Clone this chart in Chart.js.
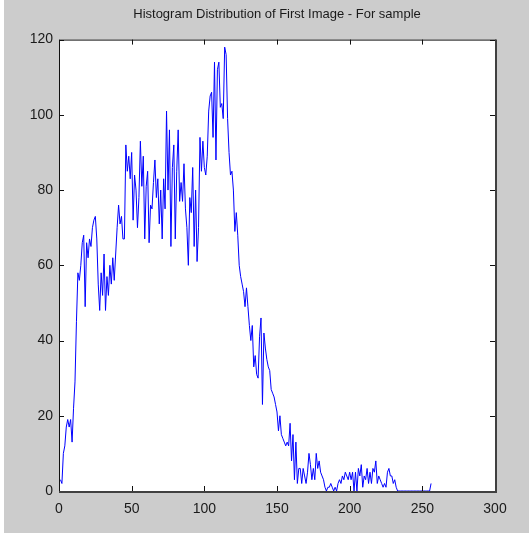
<!DOCTYPE html>
<html>
<head>
<meta charset="utf-8">
<script src="https://cdn.jsdelivr.net/npm/chart.js@4"></script>
<style>
  html, body { margin: 0; padding: 0; background: #cccccc; }
  #wrap { width: 529px; height: 533px; position: relative; }
</style>
</head>
<body>
<div id="wrap"><canvas id="myChart" width="529" height="533"></canvas></div>
<script>
// histogram counts for bins 1..256
const binCounts = [
    3, 2, 10, 12, 17, 19, 17, 19, 13, 22,
    29, 45, 58, 56, 60, 66, 68, 49, 66, 62,
    67, 65, 70, 72, 73, 67, 55, 48, 58, 52,
    63, 48, 57, 52, 60, 55, 62, 56, 63, 70,
    76, 71, 73, 67, 67, 92, 85, 89, 83, 90,
    72, 84, 80, 70, 78, 93, 81, 89, 67, 81,
    85, 66, 76, 75, 82, 88, 78, 83, 71, 80,
    67, 83, 75, 101, 80, 96, 65, 86, 92, 67,
    85, 96, 77, 82, 77, 87, 75, 70, 60, 78,
    74, 86, 65, 80, 61, 70, 94, 85, 93, 86,
    84, 89, 101, 105, 106, 94, 114, 88, 112, 114,
    102, 103, 99, 118, 116, 99, 90, 84, 85, 80,
    69, 74, 68, 60, 57, 55, 53, 49, 54, 49,
    44, 40, 44, 33, 36, 31, 30, 41, 46, 23,
    42, 38, 35, 33, 32, 27, 26, 25, 23, 21,
    16, 20, 15, 14, 13, 12, 13, 12, 18, 8,
    15, 3, 13, 2, 6, 6, 2, 6, 4, 2,
    5, 10, 7, 3, 6, 3, 10, 6, 8, 5,
    4, 3, 1, 0, 1, 1, 2, 1, 0, 1,
    0, 2, 3, 2, 4, 3, 5, 4, 3, 5,
    3, 5, 0, 5, 0, 6, 4, 7, 1, 4,
    3, 6, 2, 5, 2, 6, 5, 8, 2, 4,
    3, 2, 1, 2, 1, 5, 6, 4, 4, 2,
    3, 1, 0, 0, 0, 0, 0, 0, 0, 0,
    0, 0, 0, 0, 0, 0, 0, 0, 0, 0,
    0, 0, 0, 0, 0, 2
];
const xTickValues = [0, 50, 100, 150, 200, 250, 300];
const yTickValues = [0, 20, 40, 60, 80, 100, 120];
const chartTitle = 'Histogram Distribution of First Image - For sample';

const fontFamily = "'Liberation Sans', Arial, sans-serif";

// bin number -> count
const points = binCounts.map((v, i) => ({ x: i + 1, y: v }));

// white plot box, frame and inward tick marks (matlab look)
const axesBox = {
    id: 'axesBox',
    beforeDraw(chart) {
        const ctx = chart.ctx;
        const a = chart.chartArea;
        ctx.save();
        ctx.fillStyle = '#cccccc';
        ctx.fillRect(0, 0, chart.width, chart.height);
        ctx.fillStyle = '#ffffff';
        ctx.fillRect(0, 0, 4, chart.height);
        ctx.fillRect(a.left, a.top, a.right - a.left, a.bottom - a.top);
        ctx.restore();
    },
    afterDatasetsDraw(chart) {
        const ctx = chart.ctx;
        const a = chart.chartArea;
        const xs = chart.scales.x;
        const ys = chart.scales.y;
        const len = 5;
        ctx.save();
        ctx.strokeStyle = '#111111';
        ctx.lineWidth = 1;
        ctx.beginPath();
        xTickValues.forEach(v => {
            const px = Math.round(xs.getPixelForValue(v)) + 0.5;
            ctx.moveTo(px, a.bottom);
            ctx.lineTo(px, a.bottom - len);
            ctx.moveTo(px, a.top);
            ctx.lineTo(px, a.top + len);
        });
        yTickValues.forEach(v => {
            const py = Math.round(ys.getPixelForValue(v)) + 0.5;
            ctx.moveTo(a.left, py);
            ctx.lineTo(a.left + len, py);
            ctx.moveTo(a.right, py);
            ctx.lineTo(a.right - len, py);
        });
        ctx.stroke();
        // frame
        ctx.beginPath();
        ctx.moveTo(a.left + 0.5, a.bottom);
        ctx.lineTo(a.left + 0.5, a.top + 0.5);
        ctx.lineTo(a.right, a.top + 0.5);
        ctx.stroke();
        ctx.strokeStyle = '#404040';
        ctx.lineWidth = 2;
        ctx.beginPath();
        ctx.moveTo(a.left, a.bottom + 1);
        ctx.lineTo(a.right + 1, a.bottom + 1);
        ctx.lineTo(a.right + 1, a.top);
        ctx.stroke();
        ctx.restore();
    }
};

const config = {
    type: 'line',
    data: {
        datasets: [{
            label: 'Histogram',
            data: points,
            borderColor: '#0000ff',
            borderWidth: 1,
            pointRadius: 0,
            tension: 0,
            fill: false,
        }]
    },
    options: {
        responsive: false,
        animation: false,
        layout: {
            padding: { left: 0, right: 34, top: 0, bottom: 0 }
        },
        scales: {
            x: {
                type: 'linear',
                min: 0,
                max: 300,
                afterBuildTicks: s => { s.ticks = xTickValues.map(v => ({ value: v })); },
                afterFit: s => { s.height = 42; },
                grid: { display: false, drawTicks: false },
                border: { display: false },
                ticks: {
                    color: '#1a1a1a',
                    padding: 10,
                    maxRotation: 0,
                    font: { family: fontFamily, size: 14 }
                }
            },
            y: {
                min: 0,
                max: 120,
                afterBuildTicks: s => { s.ticks = yTickValues.map(v => ({ value: v })); },
                afterFit: s => { s.width = 59; },
                grid: { display: false, drawTicks: false },
                border: { display: false },
                ticks: {
                    color: '#1a1a1a',
                    padding: 6,
                    font: { family: fontFamily, size: 14 }
                }
            }
        },
        plugins: {
            legend: { display: false },
            tooltip: { enabled: false },
            title: {
                display: true,
                fullSize: false,
                text: chartTitle,
                color: '#1a1a1a',
                font: { family: fontFamily, size: 13, weight: 'normal', lineHeight: 1.2 },
                padding: { top: 7, bottom: 17 }
            }
        }
    },
    plugins: [axesBox]
};

const myChart = new Chart(document.getElementById('myChart'), config);
</script>
</body>
</html>
